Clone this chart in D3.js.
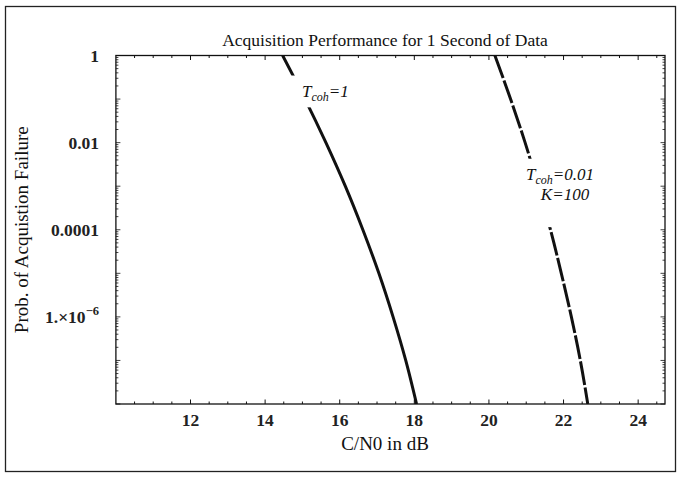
<!DOCTYPE html>
<html><head><meta charset="utf-8">
<script src="https://cdn.jsdelivr.net/npm/d3@7"></script>
<style>body{margin:0;background:#fff}svg{display:block}</style>
</head><body>
<svg id="c" width="678" height="484"></svg>
<script>
// ---- data ----
const probLevels = [1, 1e-1, 1e-2, 1e-3, 1e-4, 1e-5, 1e-6, 1e-7, 1e-8];
const cn0Tcoh1   = [14.47, 15.07, 15.63, 16.15, 16.62, 17.05, 17.43, 17.77, 18.06];
const cn0Tcoh001 = [20.16, 20.58, 20.97, 21.32, 21.65, 21.94, 22.21, 22.45, 22.65];
const xTicks = [12, 14, 16, 18, 20, 22, 24];
const yTickVals = [1, 1e-2, 1e-4, 1e-6];
const yTickText = ["1", "0.01", "0.0001", "1e-6"];
const title = "Acquisition  Performance for 1 Second of Data";
const xTitle = "C/N0 in  dB";
const yTitle = "Prob. of Acquistion Failure";

// ---- layout ----
const L = 115.9, R = 665, T = 55.5, B = 404;
const svg = d3.select("#c");
const x = d3.scaleLinear().domain([10, 24.72]).range([L, R]);
const y = d3.scaleLog().domain([1e-8, 1]).range([B, T]);
const serif = "'Liberation Serif','Times New Roman',serif";

// outer frame
svg.append("rect").attr("x", 5.5).attr("y", 6.5).attr("width", 670).attr("height", 465)
  .attr("fill", "none").attr("stroke", "#222").attr("stroke-width", 1.3);

// title
svg.append("text").attr("x", 385).attr("y", 46).attr("text-anchor", "middle")
  .attr("font-family", serif).attr("font-size", 17.5).attr("fill", "#111").text(title);

// clip
svg.append("clipPath").attr("id", "clip").append("rect")
  .attr("x", L).attr("y", T).attr("width", R - L).attr("height", B - T);

const line = d3.line().x(d => x(d[0])).y(d => y(d[1])).curve(d3.curveMonotoneY);
const g = svg.append("g").attr("clip-path", "url(#clip)");
g.append("path").datum(cn0Tcoh1.map((v, i) => [v, probLevels[i]]))
  .attr("d", line).attr("fill", "none").attr("stroke", "#111").attr("stroke-width", 3);
g.append("path").datum(cn0Tcoh001.map((v, i) => [v, probLevels[i]]))
  .attr("d", line).attr("fill", "none").attr("stroke", "#111").attr("stroke-width", 3)
  .attr("stroke-dasharray", "24,2.5");

// label gaps
svg.append("rect").attr("x", x(14.6)).attr("y", y(Math.pow(10, -0.46))).attr("width", x(15.6) - x(14.6))
  .attr("height", y(Math.pow(10, -1.19)) - y(Math.pow(10, -0.46))).attr("fill", "#fff");
svg.append("rect").attr("x", x(20.9)).attr("y", y(Math.pow(10, -2.37))).attr("width", x(21.8) - x(20.9))
  .attr("height", y(Math.pow(10, -3.94)) - y(Math.pow(10, -2.37))).attr("fill", "#fff");

// curve labels
function tcoh(xp, yp, rest) {
  const t = svg.append("text").attr("x", xp).attr("y", yp).attr("font-family", serif)
    .attr("font-style", "italic").attr("font-size", 17).attr("fill", "#111");
  t.append("tspan").text("T");
  t.append("tspan").attr("dy", 4).attr("font-size", 12).text("coh");
  t.append("tspan").attr("dy", -4).text(rest);
}
tcoh(302, 97, "=1");
tcoh(526, 180, "=0.01");
svg.append("text").attr("x", 565).attr("y", 200).attr("text-anchor", "middle").attr("font-family", serif)
  .attr("font-style", "italic").attr("font-size", 17).attr("fill", "#111").text("K=100");

// frame
svg.append("rect").attr("x", L).attr("y", T).attr("width", R - L).attr("height", B - T)
  .attr("fill", "none").attr("stroke", "#111").attr("stroke-width", 1.3);

// x ticks (inward, bottom & top)
const xMinor = d3.range(10.5, 24.6, 0.5);
[B, T].forEach((yy, k) => {
  const dir = k === 0 ? -1 : 1;
  svg.append("g").selectAll("line").data(xMinor).join("line")
    .attr("x1", d => x(d)).attr("x2", d => x(d))
    .attr("y1", yy).attr("y2", d => yy + dir * (Number.isInteger(d) && d % 2 === 0 ? 4.5 : 2.5))
    .attr("stroke", "#111").attr("stroke-width", 1);
});
// x tick labels
svg.append("g").selectAll("text").data(xTicks).join("text")
  .attr("x", d => x(d)).attr("y", 426).attr("text-anchor", "middle")
  .attr("font-family", serif).attr("font-size", 17.5).attr("font-weight", "bold").attr("fill", "#222")
  .text(d => d);
svg.append("text").attr("x", 385).attr("y", 450).attr("text-anchor", "middle")
  .attr("font-family", serif).attr("font-size", 19).attr("fill", "#111").text(xTitle);

// y ticks (log, left & right inward)
const yMinor = [];
for (let e = -8; e < 0; e++) for (let m = 1; m < 10; m++) yMinor.push(m * Math.pow(10, e));
yMinor.push(1);
[L, R].forEach((xx, k) => {
  const dir = k === 0 ? 1 : -1;
  svg.append("g").selectAll("line").data(yMinor).join("line")
    .attr("y1", d => y(d)).attr("y2", d => y(d))
    .attr("x1", xx).attr("x2", d => xx + dir * (Math.abs(Math.log10(d) - Math.round(Math.log10(d))) < 1e-9 ? 4.5 : 2.5))
    .attr("stroke", "#111").attr("stroke-width", 0.8);
});
// y tick labels
const yl = svg.append("g");
yTickVals.forEach((v, i) => {
  const t = yl.append("text").attr("x", 99).attr("y", y(v) + 6).attr("text-anchor", "end")
    .attr("font-family", serif).attr("font-size", 17.5).attr("font-weight", "bold").attr("fill", "#222");
  if (yTickText[i] === "1e-6") {
    t.append("tspan").text("1.\u00d710");
    t.append("tspan").attr("dy", -8).attr("font-size", 12.5).text("\u22126");
  } else t.text(yTickText[i]);
});
svg.append("text").attr("transform", "translate(28," + (T + B) / 2 + ") rotate(-90)")
  .attr("text-anchor", "middle").attr("font-family", serif).attr("font-size", 19).attr("fill", "#111")
  .text(yTitle);
</script>
</body></html>
